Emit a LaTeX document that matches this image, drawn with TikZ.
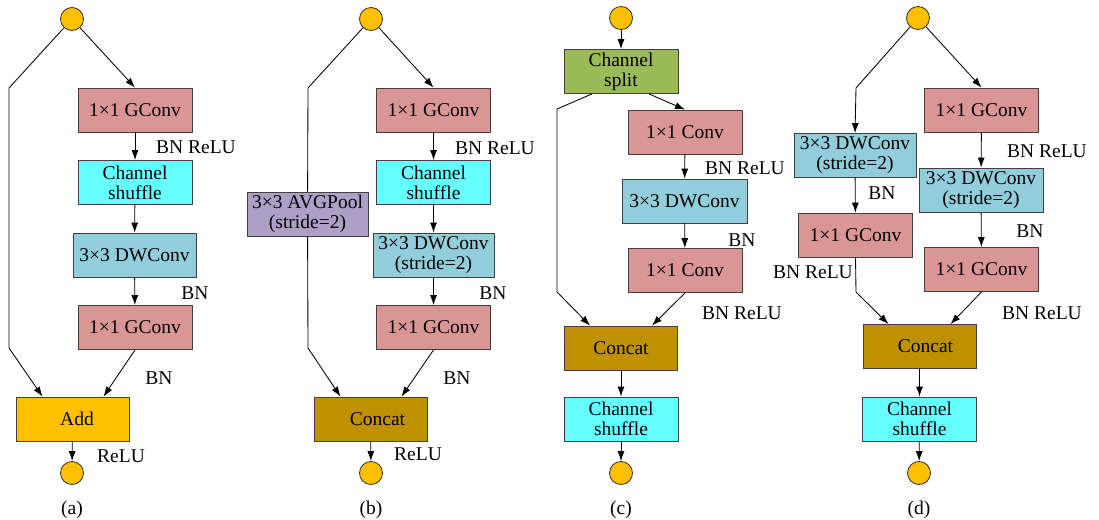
\documentclass[tikz,border=0pt]{standalone}
\usepackage{fontspec}
\setmainfont{Liberation Serif}
\usetikzlibrary{arrows.meta}
\definecolor{gconvpink}{HTML}{D99694}
\definecolor{shufcyan}{HTML}{66FFFF}
\definecolor{dwblue}{HTML}{92CDDC}
\definecolor{poolpurple}{HTML}{ADA0C6}
\definecolor{addorange}{HTML}{FFC000}
\definecolor{catgold}{HTML}{BF9000}
\definecolor{splitgreen}{HTML}{9BBB59}
\begin{document}
\begin{tikzpicture}[x=1pt,y=-1pt,line width=0.85pt]
  \tikzstyle{every node} = [align=center, font=\fontsize{19.5}{20}\selectfont]
  \tikzstyle{box} = [draw=black!75, inner sep=0pt, minimum height=44pt, minimum width=114pt]
  \tikzstyle{gconv} = [box, fill=gconvpink]
  \tikzstyle{shuf} = [box, fill=shufcyan]
  \tikzstyle{dwconv} = [box, fill=dwblue, minimum width=123pt]
  \tikzstyle{pool} = [box, fill=poolpurple, minimum width=121pt]
  \tikzstyle{addbox} = [box, fill=addorange, minimum width=113pt]
  \tikzstyle{catbox} = [box, fill=catgold, minimum width=113pt]
  \tikzstyle{split} = [box, fill=splitgreen]
  \tikzstyle{dot} = [circle, draw=black!80, fill=addorange, minimum size=23pt, inner sep=0pt]
  \tikzstyle{arr} = [-{Latex[length=10pt,width=7pt]}]
  \useasboundingbox (0,0) rectangle (1099,519);

  % (a)
  \node[dot] (a0) at (72,19) {};
  \node[gconv] (a1) at (135,110) {1×1 GConv};
  \node[shuf] (a2) at (135,182.5) {Channel\\shuffle};
  \node[dwconv] (a3) at (134.5,255) {3×3 DWConv};
  \node[gconv] (a4) at (135,327.5) {1×1 GConv};
  \node[addbox] (a5) at (72.5,419) {\hspace*{9pt}Add};
  \node[dot] (a6) at (72,473) {};
  \node (a7) at (72,510) {(a)};
  \coordinate (a8) at (9,88);
  \coordinate (a9) at (9,348);
  \draw[arr] (a0) -- (a8) -- (a9) -- ([xshift=-30pt]a5.north);
  \draw[arr] (a0) -- (a1.north);
  \draw[arr] (a1) -- (a2);
  \draw[arr] (a2) -- (a3);
  \draw[arr] (a3) -- (a4);
  \draw[arr] (a4.south) -- ([xshift=31pt]a5.north);
  \draw[arr] (a5) -- (a6);
  \node (a10) at (196,147) {BN ReLU};
  \node (a11) at (195,293) {BN};
  \node (a12) at (159,378) {BN};
  \node (a13) at (121,456) {ReLU};

  % (b)
  \node[dot] (b0) at (371,19) {};
  \node[gconv] (b1) at (433.5,110) {1×1 GConv};
  \node[shuf] (b2) at (433.5,182.5) {Channel\\shuffle};
  \node[dwconv, minimum width=121pt] (b3) at (433.5,255) {3×3 DWConv\\(stride=2)};
  \node[gconv] (b4) at (433.5,327.5) {1×1 GConv};
  \node[catbox] (b5) at (370.5,419) {\hspace*{14pt}Concat};
  \node[dot] (b6) at (371,473) {};
  \node (b7) at (371,510) {(b)};
  \node[pool] (b8) at (307.5,214) {3×3 AVGPool\\(stride=2)};
  \coordinate (b9) at (308,88);
  \coordinate (b10) at (308,348);
  \draw (b0) -- (b9) -- (b8);
  \draw[arr] (b8) -- (b10) -- ([xshift=-30pt]b5.north);
  \draw[arr] (b0) -- (b1.north);
  \draw[arr] (b1) -- (b2);
  \draw[arr] (b2) -- (b3);
  \draw[arr] (b3) -- (b4);
  \draw[arr] (b4.south) -- ([xshift=31pt]b5.north);
  \draw[arr] (b5) -- (b6);
  \node (b11) at (495,148) {BN ReLU};
  \node (b12) at (493,293) {BN};
  \node (b13) at (457,378) {BN};
  \node (b14) at (418,454) {ReLU};

  % (c)
  \node[dot] (c0) at (621,18) {};
  \node[split] (c1) at (621,71.5) {Channel\\split};
  \node[gconv] (c2) at (685,132) {1×1 Conv};
  \node[dwconv, minimum width=125pt] (c3) at (684.5,201) {3×3 DWConv};
  \node[gconv] (c4) at (685,270.5) {1×1 Conv};
  \node[catbox] (c5) at (621,348) {Concat};
  \node[shuf] (c6) at (621,419) {Channel\\shuffle};
  \node[dot] (c7) at (621,473) {};
  \node (c8) at (621,510) {(c)};
  \coordinate (c9) at (557,109);
  \coordinate (c10) at (557,292);
  \draw[arr] (c0) -- (c1);
  \draw[arr] ([xshift=-29pt]c1.south) -- (c9) -- (c10) -- ([xshift=-31pt]c5.north);
  \draw[arr] ([xshift=28pt]c1.south) -- (c2.north);
  \draw[arr] (c2) -- (c3);
  \draw[arr] (c3) -- (c4);
  \draw[arr] (c4.south) -- ([xshift=31pt]c5.north);
  \draw[arr] (c5) -- (c6);
  \draw[arr] (c6) -- (c7);
  \node (c11) at (745,168) {BN ReLU};
  \node (c12) at (742,240) {BN};
  \node (c13) at (742,313) {BN ReLU};

  % (d)
  \node[dot] (d0) at (918,18) {};
  \node[dwconv, minimum width=122pt] (d1) at (855,155.5) {3×3 DWConv\\(stride=2)};
  \node[gconv] (d2) at (855.5,235) {1×1 GConv};
  \node[gconv] (d3) at (981.5,110) {1×1 GConv};
  \node[dwconv, minimum width=124pt] (d4) at (981,190) {3×3 DWConv\\(stride=2)};
  \node[gconv] (d5) at (981.5,269.5) {1×1 GConv};
  \node[catbox] (d6) at (919.5,346.5) {\hspace*{12pt}Concat};
  \node[shuf] (d7) at (919.5,419) {Channel\\shuffle};
  \node[dot] (d8) at (919,473) {};
  \node (d9) at (919,510) {(d)};
  \coordinate (d10) at (856,88);
  \coordinate (d11) at (856,292);
  \draw[arr] (d0) -- (d10) -- (d1.north);
  \draw[arr] (d1) -- (d2);
  \draw[arr] (d2.south) -- (d11) -- ([xshift=-31pt]d6.north);
  \draw[arr] (d0) -- (d3.north);
  \draw[arr] (d3) -- (d4);
  \draw[arr] (d4) -- (d5);
  \draw[arr] (d5.south) -- ([xshift=31pt]d6.north);
  \draw[arr] (d6) -- (d7);
  \draw[arr] (d7) -- (d8);
  \node (d12) at (882,193) {BN};
  \node (d13) at (813,272) {BN ReLU};
  \node (d14) at (1047,151) {BN ReLU};
  \node (d15) at (1030,231) {BN};
  \node (d16) at (1042,313) {BN ReLU};
\end{tikzpicture}
\end{document}
